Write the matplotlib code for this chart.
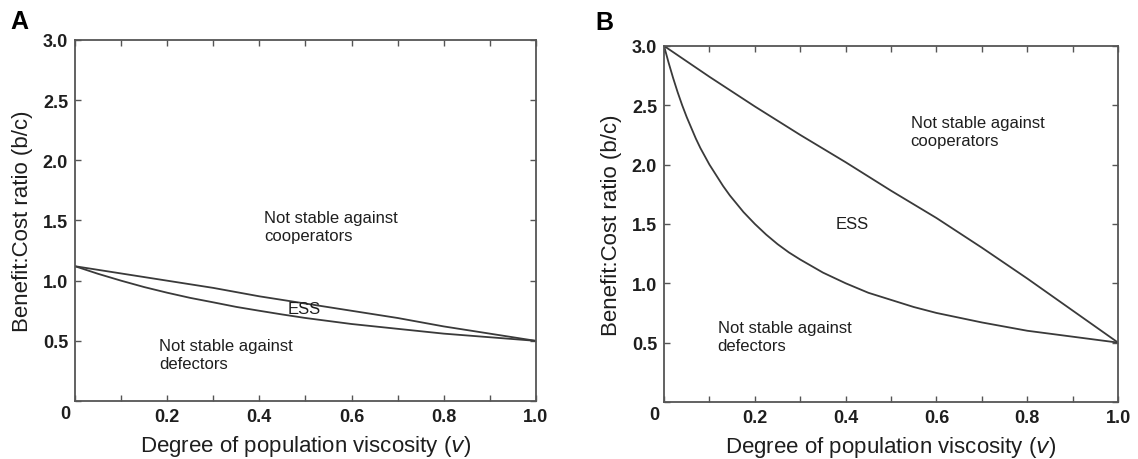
import matplotlib
matplotlib.use("Agg")
import matplotlib.pyplot as plt
import numpy as np

plt.rcParams['font.family'] = ['Liberation Sans', 'DejaVu Sans']

# --- dados ---
# Painel A
v_a_up = [0.0, 0.1, 0.2, 0.3, 0.4, 0.5, 0.6, 0.7, 0.8, 0.9, 1.0]
upper_a = [1.12, 1.06, 1.00, 0.94, 0.87, 0.81, 0.75, 0.69, 0.62, 0.56, 0.50]
v_a_low = [0.0, 0.05, 0.1, 0.15, 0.2, 0.25, 0.3, 0.35, 0.4, 0.45, 0.5,
           0.6, 0.7, 0.8, 0.9, 1.0]
lower_a = [1.12, 1.057, 1.00, 0.947, 0.90, 0.857, 0.82, 0.782, 0.75, 0.719, 0.69,
           0.64, 0.60, 0.56, 0.53, 0.50]

# Painel B
v_b_up = [0.0, 0.1, 0.2, 0.3, 0.4, 0.5, 0.6, 0.7, 0.8, 0.9, 1.0]
upper_b = [3.00, 2.74, 2.49, 2.25, 2.02, 1.78, 1.55, 1.30, 1.04, 0.77, 0.50]
v_b_low = [0.0, 0.01, 0.02, 0.03, 0.04, 0.05, 0.06, 0.07, 0.08, 0.09, 0.1,
           0.115, 0.13, 0.145, 0.16, 0.175, 0.2, 0.225, 0.25, 0.275, 0.3,
           0.35, 0.4, 0.45, 0.5, 0.55, 0.6, 0.7, 0.8, 0.9, 1.0]
lower_b = [3.00, 2.86, 2.73, 2.61, 2.50, 2.40, 2.31, 2.22, 2.14, 2.07, 2.00,
           1.91, 1.82, 1.74, 1.67, 1.60, 1.50, 1.41, 1.33, 1.26, 1.20,
           1.09, 1.00, 0.92, 0.86, 0.80, 0.75, 0.67, 0.60, 0.55, 0.50]

xticks = [0.0, 0.1, 0.2, 0.3, 0.4, 0.5, 0.6, 0.7, 0.8, 0.9, 1.0]
xticklabels = ['', '', '0.2', '', '0.4', '', '0.6', '', '0.8', '', '1.0']
yticks = [0.0, 0.5, 1.0, 1.5, 2.0, 2.5, 3.0]
yticklabels = ['', '0.5', '1.0', '1.5', '2.0', '2.5', '3.0']

xlabel = "Degree of population viscosity ($\\it{v}$)"
ylabel = "Benefit:Cost ratio (b/c)"

line_col = '#3a3a3a'
text_col = '#1e1e1e'

fig = plt.figure(figsize=(11.38, 4.6), dpi=100)
ax_a = fig.add_axes([0.0659, 0.126, 0.405, 0.785])
ax_b = fig.add_axes([0.5835, 0.124, 0.399, 0.774])


def style_axes(ax):
    ax.set_xlim(0, 1)
    ax.set_ylim(0, 3)
    ax.set_xticks(xticks)
    ax.set_xticklabels(xticklabels)
    ax.set_yticks(yticks)
    ax.set_yticklabels(yticklabels)
    ax.tick_params(direction='in', top=True, right=True, length=4.5, width=1,
                   color='#555555', labelsize=13, labelcolor=text_col)
    ax.tick_params(axis='x', pad=5)
    ax.tick_params(axis='y', pad=5)
    for lab in ax.get_xticklabels() + ax.get_yticklabels():
        lab.set_fontweight('bold')
    for sp in ax.spines.values():
        sp.set_color('#555555')
        sp.set_linewidth(1.3)
    ax.annotate('0', xy=(0, 0), xytext=(-7, -9), textcoords='offset points',
                ha='center', va='center', fontsize=13, fontweight='bold',
                color=text_col)
    ax.set_xlabel(xlabel, fontsize=16, color=text_col, labelpad=6)
    ax.set_ylabel(ylabel, fontsize=16, color=text_col, labelpad=7)


# Painel A
ax_a.plot(v_a_up, upper_a, color=line_col, lw=1.3)
ax_a.plot(v_a_low, lower_a, color=line_col, lw=1.3)
style_axes(ax_a)
ax_a.text(0.41, 1.45, "Not stable against\ncooperators", fontsize=12,
          color=text_col, ha='left', va='center', linespacing=1.25)
ax_a.text(0.498, 0.767, "ESS", fontsize=12, color=text_col,
          ha='center', va='center')
ax_a.text(0.182, 0.39, "Not stable against\ndefectors", fontsize=12,
          color=text_col, ha='left', va='center', linespacing=1.25)

# Painel B
ax_b.plot(v_b_up, upper_b, color=line_col, lw=1.3)
ax_b.plot(v_b_low, lower_b, color=line_col, lw=1.3)
style_axes(ax_b)
ax_b.text(0.543, 2.28, "Not stable against\ncooperators", fontsize=12,
          color=text_col, ha='left', va='center', linespacing=1.25)
ax_b.text(0.415, 1.50, "ESS", fontsize=12, color=text_col,
          ha='center', va='center')
ax_b.text(0.118, 0.55, "Not stable against\ndefectors", fontsize=12,
          color=text_col, ha='left', va='center', linespacing=1.25)

fig.text(0.009, 0.953, "A", fontsize=18, fontweight='bold', color='black',
         ha='left', va='center')
fig.text(0.523, 0.950, "B", fontsize=18, fontweight='bold', color='black',
         ha='left', va='center')

fig.savefig("out.png", dpi=100)
